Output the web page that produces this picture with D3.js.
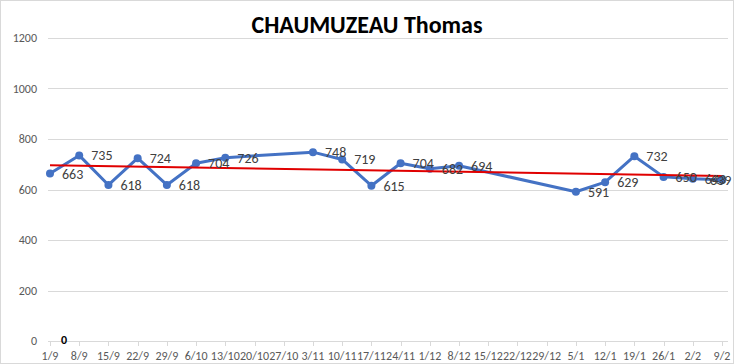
<!DOCTYPE html>
<html>
<head>
<meta charset="utf-8">
<script src="https://cdn.jsdelivr.net/npm/d3@7"></script>
<style>
  body { margin: 0; background: #fff; }
  text { font-family: Calibri, Carlito, "Liberation Sans", Arial, sans-serif; }
</style>
</head>
<body>
<div id="chart"></div>
<script>
var categories = ["1/9", "8/9", "15/9", "22/9", "29/9", "6/10", "13/10", "20/10", "27/10", "3/11",
  "10/11", "17/11", "24/11", "1/12", "8/12", "15/12", "22/12", "29/12", "5/1", "12/1",
  "19/1", "26/1", "2/2", "9/2"];
var scores = [663, 735, 618, 724, 618, 704, 726, null, null, 748,
  719, 615, 704, 682, 694, null, null, null, 591, 629,
  732, 650, 643, 639];
var yTicks = [0, 200, 400, 600, 800, 1000, 1200];
var title = "CHAUMUZEAU Thomas";

(function () {
  var width = 734,
    height = 364;

  var svg = d3.select("#chart")
    .append("svg")
    .attr("width", width)
    .attr("height", height);

  // chart frame
  svg.append("rect")
    .attr("x", 0.5).attr("y", 0.5)
    .attr("width", width - 1).attr("height", height - 1)
    .attr("fill", "#fff")
    .attr("stroke", "#d9d9d9");

  var x = d3.scalePoint().domain(categories).range([50, 722]);
  var y = d3.scaleLinear().domain([0, 1200]).range([341, 38]);

  // gridlines
  svg.selectAll(".grid")
    .data(yTicks)
    .enter().append("line")
    .attr("x1", 48).attr("x2", 728)
    .attr("y1", function (d) { return Math.round(y(d)) + 0.5; })
    .attr("y2", function (d) { return Math.round(y(d)) + 0.5; })
    .attr("stroke", "#d9d9d9");

  // y labels
  svg.selectAll(".ylab")
    .data(yTicks)
    .enter().append("text")
    .attr("x", 37)
    .attr("y", function (d) { return y(d) + 4; })
    .attr("text-anchor", "end")
    .attr("font-size", "12px")
    .attr("fill", "#595959")
    .text(function (d) { return d; });

  // x axis ticks + labels
  svg.selectAll(".xtick")
    .data(categories)
    .enter().append("line")
    .attr("x1", function (d) { return Math.round(x(d)) + 0.5; })
    .attr("x2", function (d) { return Math.round(x(d)) + 0.5; })
    .attr("y1", 341).attr("y2", 346)
    .attr("stroke", "#d9d9d9");

  svg.selectAll(".xlab")
    .data(categories)
    .enter().append("text")
    .attr("x", function (d) { return x(d); })
    .attr("y", 360)
    .attr("text-anchor", "middle")
    .attr("font-size", "12px")
    .attr("fill", "#595959")
    .text(function (d) { return d; });

  // title
  svg.append("text")
    .attr("x", 367)
    .attr("y", 33)
    .attr("text-anchor", "middle")
    .attr("font-size", "24px")
    .attr("font-weight", "bold")
    .attr("fill", "#000")
    .text(title);

  var points = categories.map(function (c, i) {
    return { cat: c, i: i, v: scores[i] };
  }).filter(function (d) { return d.v != null; });

  // linear trend line (least squares on category index)
  var mx = d3.mean(points, function (d) { return d.i; }),
    my = d3.mean(points, function (d) { return d.v; });
  var slope = d3.sum(points, function (d) { return (d.i - mx) * (d.v - my); }) /
    d3.sum(points, function (d) { return (d.i - mx) * (d.i - mx); });
  var trend = function (i) { return my + slope * (i - mx); };

  var line = d3.line()
    .x(function (d) { return x(d.cat); })
    .y(function (d) { return y(d.v); });

  svg.append("path")
    .datum(points)
    .attr("d", line)
    .attr("fill", "none")
    .attr("stroke", "#4472c4")
    .attr("stroke-width", 3)
    .attr("stroke-linejoin", "round");

  svg.selectAll(".dot")
    .data(points)
    .enter().append("circle")
    .attr("cx", function (d) { return x(d.cat); })
    .attr("cy", function (d) { return y(d.v); })
    .attr("r", 4)
    .attr("fill", "#4472c4");

  var first = 0, last = categories.length - 1;
  svg.append("line")
    .attr("x1", x(categories[first])).attr("y1", y(trend(first)))
    .attr("x2", x(categories[last])).attr("y2", y(trend(last)))
    .attr("stroke", "#e00000")
    .attr("stroke-width", 2);

  // data labels, right of the point, kept inside the frame
  svg.selectAll(".dlab")
    .data(points)
    .enter().append("text")
    .attr("x", function (d) { return Math.min(x(d.cat) + 12, 732 - 22); })
    .attr("y", function (d) { return y(d.v) + 5; })
    .attr("font-size", "14px")
    .attr("fill", "#404040")
    .text(function (d) { return d.v; });

  // stray bold zero near the origin
  svg.append("text")
    .attr("x", 64)
    .attr("y", 344)
    .attr("text-anchor", "middle")
    .attr("font-size", "12px")
    .attr("font-weight", "bold")
    .attr("fill", "#000")
    .text("0");
})();
</script>
</body>
</html>
